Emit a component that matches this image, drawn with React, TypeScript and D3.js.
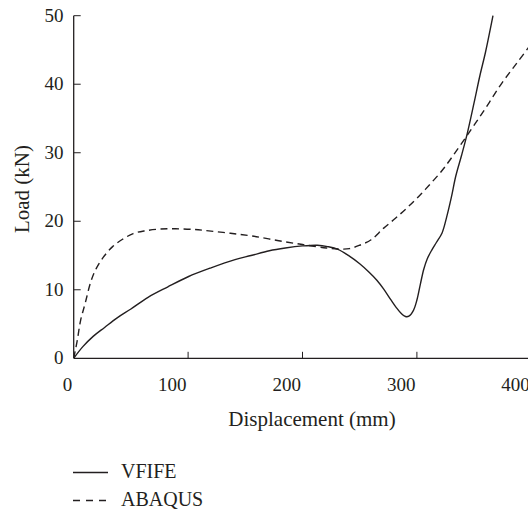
import React from 'react';
import { scaleLinear, line, curveCatmullRom } from 'd3';

const vfifeX = [0, 8, 17, 27, 38, 50, 65, 82, 100, 120, 141, 155, 171, 185, 200, 213, 222, 231, 241, 250, 258, 265, 271, 277, 282, 286, 290, 293, 297, 300, 303, 306, 309, 313, 317, 322, 326, 330, 334, 339, 344, 350, 355, 360, 366.5];
const vfifeY = [0, 1.7, 3.2, 4.5, 5.9, 7.2, 8.9, 10.4, 11.9, 13.2, 14.4, 15.0, 15.7, 16.1, 16.4, 16.5, 16.3, 15.9, 14.9, 13.8, 12.6, 11.4, 10.1, 8.6, 7.4, 6.6, 6.1, 6.15, 7.0, 8.5, 10.8, 13.0, 14.5, 15.8, 16.9, 18.3, 20.6, 23.4, 26.6, 29.6, 32.8, 37.3, 41.2, 44.7, 50];

const abaqusX = [0, 3, 6, 10, 15, 20, 27, 34, 42, 52, 62, 75, 89, 105, 118, 137, 156, 178, 200, 221, 232, 241, 250, 260, 271, 281, 291, 302, 312, 322, 330, 345, 360, 374, 387, 400];
const abaqusY = [0, 2.5, 5.5, 8.0, 11.2, 13.2, 15.0, 16.3, 17.3, 18.2, 18.6, 18.85, 18.9, 18.8, 18.6, 18.25, 17.85, 17.2, 16.6, 16.1, 15.95, 16.0, 16.5, 17.3, 19.0, 20.4, 21.9, 23.7, 25.5, 27.4, 29.2, 32.8, 36.5, 40.1, 43.0, 45.9];

const xTicks = [0, 100, 200, 300, 400];
const yTicks = [0, 10, 20, 30, 40, 50];
const seriesNames = ['VFIFE', 'ABAQUS'];

const W = 528;
const H = 511;
const ink = '#231f20';
const font = "'Liberation Serif', 'Times New Roman', serif";

const App = () => {
  const x = scaleLinear().domain([0, 400]).range([73.7, 531.3]);
  const y = scaleLinear().domain([0, 50]).range([358.3, 15.7]);

  const path = line<[number, number]>()
    .x(d => x(d[0]))
    .y(d => y(d[1]))
    .curve(curveCatmullRom.alpha(0.5));

  const vfife = path(vfifeX.map((v, i) => [v, vfifeY[i]])) || '';
  const abaqus = path(abaqusX.map((v, i) => [v, abaqusY[i]])) || '';

  return (
    <svg width={W} height={H} style={{ position: 'absolute', left: 0, top: 0, fontFamily: font }}>
      <defs>
        <clipPath id="plot">
          <rect x={x(0)} y={y(50) - 1} width={W - x(0)} height={y(0) - y(50) + 1} />
        </clipPath>
      </defs>

      {/* axes */}
      <line x1={x(0)} x2={W} y1={y(0)} y2={y(0)} stroke={ink} strokeWidth={1.3} />
      <line x1={x(0)} x2={x(0)} y1={y(50)} y2={y(0)} stroke={ink} strokeWidth={1.3} />

      {xTicks.map(t => (
        <g key={'x' + t}>
          {t > 0 && <line x1={x(t)} x2={x(t)} y1={y(0)} y2={y(0) - 6.5} stroke={ink} strokeWidth={1} />}
          <text x={x(t) - 1.5} y={391} textAnchor="end" fontSize={19} fill={ink}>{t}</text>
        </g>
      ))}
      {yTicks.map(t => (
        <g key={'y' + t}>
          {t > 0 && <line x1={x(0)} x2={x(0) + 7} y1={y(t)} y2={y(t)} stroke={ink} strokeWidth={1} />}
          <text x={63.5} y={y(t) + 6} textAnchor="end" fontSize={19} fill={ink}>{t}</text>
        </g>
      ))}

      <text x={312} y={426} textAnchor="middle" fontSize={21} fill={ink}>Displacement (mm)</text>
      <text transform="translate(29,189) rotate(-90)" textAnchor="middle" fontSize={21} fill={ink}>Load (kN)</text>

      <g clipPath="url(#plot)" fill="none" stroke={ink} strokeWidth={1.4}>
        <path d={vfife} />
        <path d={abaqus} strokeDasharray="7 4.5" />
      </g>

      {/* legend */}
      {seriesNames.map((name, i) => (
        <g key={name} transform={`translate(0,${472.5 + i * 28})`}>
          <line x1={73} x2={108} y1={0} y2={0} stroke={ink} strokeWidth={1.4}
            strokeDasharray={i === 1 ? '7 6' : undefined} />
          <text x={121} y={5} fontSize={20} fill={ink}>{name}</text>
        </g>
      ))}
    </svg>
  );
};

export default App;
